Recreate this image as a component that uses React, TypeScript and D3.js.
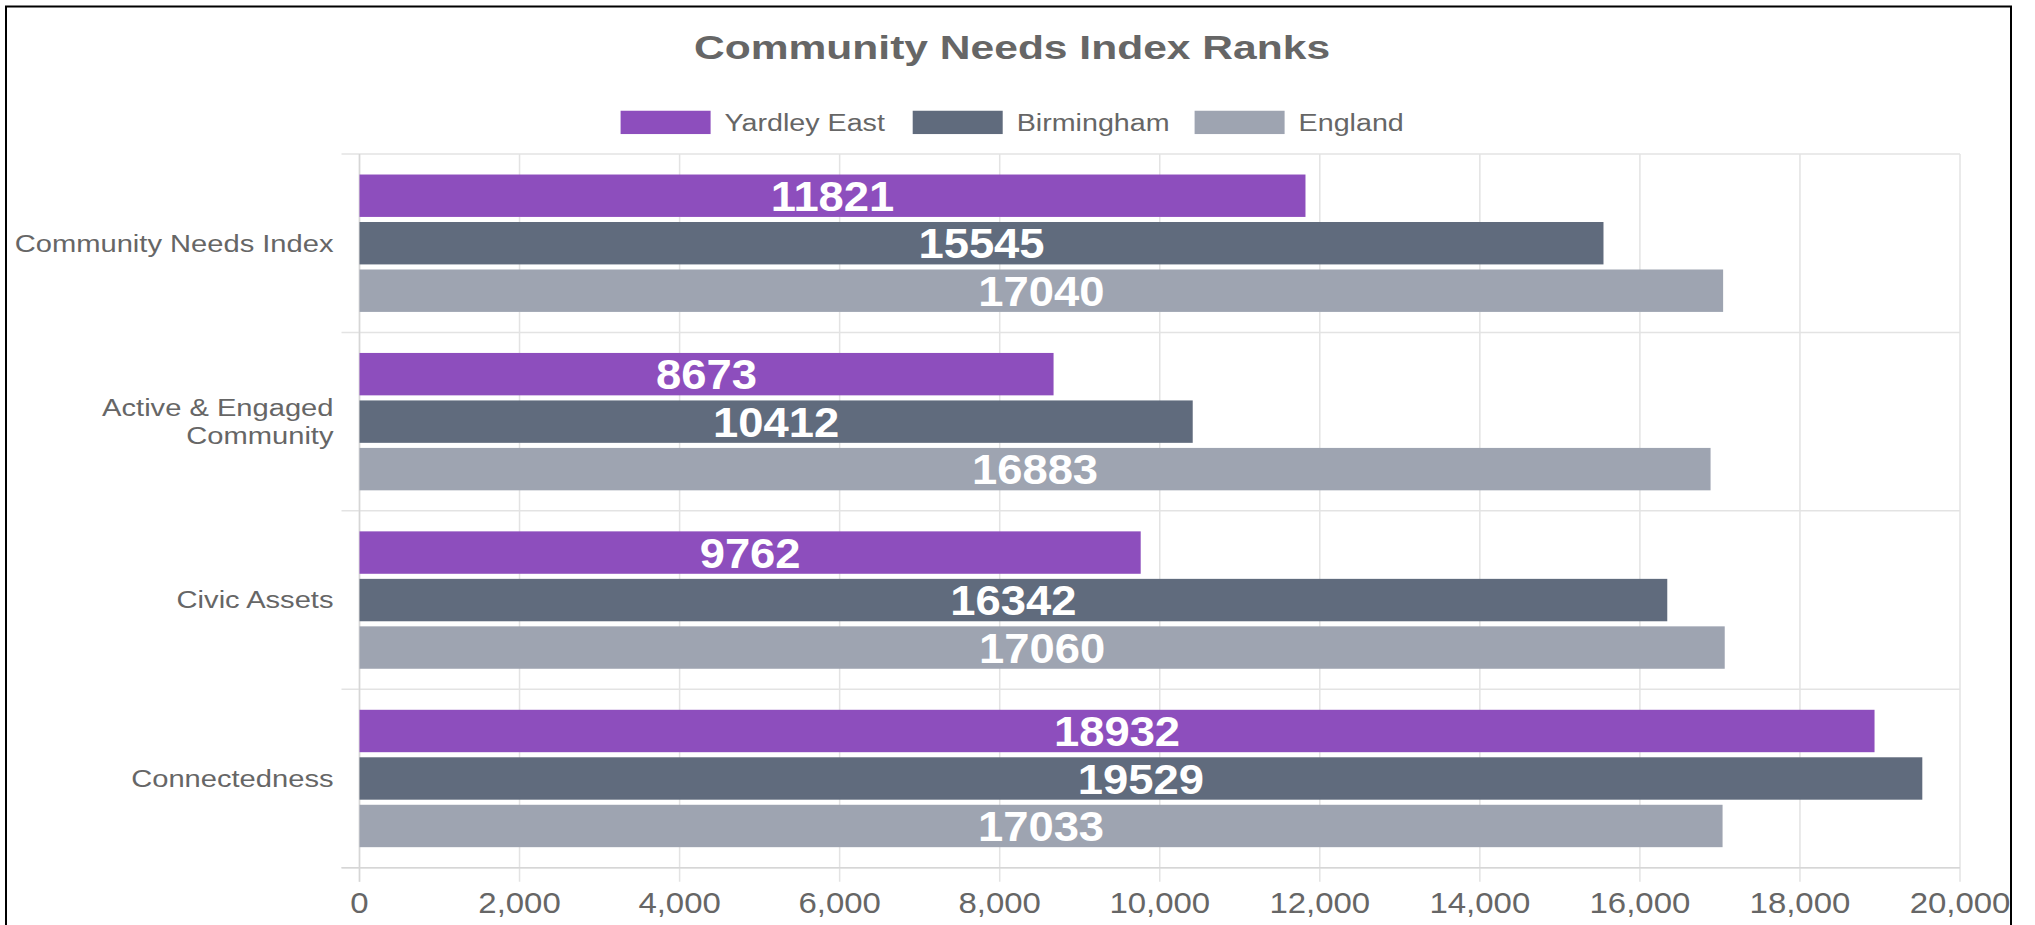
import React from "react";
import * as d3 from "d3";

const categories: string[][] = [
  ["Community Needs Index"],
  ["Active & Engaged", "Community"],
  ["Civic Assets"],
  ["Connectedness"],
];
const seriesNames = ["Yardley East", "Birmingham", "England"];
const seriesColors = ["#8D4EBD", "#606B7D", "#9EA4B1"];
const yardleyEast = [11821, 8673, 9762, 18932];
const birmingham = [15545, 10412, 16342, 19529];
const england = [17040, 16883, 17060, 17033];
const xTicks = [0, 2000, 4000, 6000, 8000, 10000, 12000, 14000, 16000, 18000, 20000];
const title = "Community Needs Index Ranks";

const W = 2035;
const H = 925;
const FONT = "'Liberation Sans', Arial, Helvetica, sans-serif";
const GRAY = "#666666";
const GRID = "#e3e3e3";

function SText({ x, y, sx, children, ...rest }: any) {
  return (
    <g transform={`translate(${x},${y}) scale(${sx},1)`}>
      <text x={0} y={0} {...rest}>
        {children}
      </text>
    </g>
  );
}

export default function App() {
  const left = 359.5;
  const right = 1960;
  const top = 154;
  const bottom = 867.7;
  const series = [yardleyEast, birmingham, england];

  const x = d3.scaleLinear().domain([0, 20000]).range([left, right]);
  const y = d3
    .scaleBand<number>()
    .domain(categories.map((_, i) => i))
    .range([top, bottom])
    .paddingInner(0)
    .paddingOuter(0);
  const groupH = y.bandwidth() * 0.77;
  const sub = d3
    .scaleBand<number>()
    .domain([0, 1, 2])
    .range([0, groupH])
    .paddingInner(0.107)
    .paddingOuter(0);
  const groupOff = (y.bandwidth() - groupH) / 2;
  const fmt = d3.format(",");

  // legend layout
  const boxW = 90;
  const boxH = 23.3;
  const legendFont = 23.3;
  const legendSx = 1.23;
  const textW = seriesNames.map((n) => n.length); // placeholder, positions computed below
  const legendX = [620.6, 912.7, 1194.6];
  const legendY = 122.4;

  const bands = d3.range(categories.length + 1).map((i) =>
    i < categories.length ? (y(i) as number) : bottom
  );

  return (
    <svg
      width={W}
      height={H}
      style={{ position: "absolute", left: 0, top: 0, background: "#fff" }}
      fontFamily={FONT}
    >
      <rect x={0} y={0} width={W} height={H} fill="#fff" />
      {/* outer border */}
      <rect x={6} y={6.5} width={2005} height={1100} fill="none" stroke="#000" strokeWidth={2} />

      {/* title */}
      <SText
        x={1012}
        y={59}
        sx={1.31}
        textAnchor="middle"
        fontSize={32.5}
        fontWeight="bold"
        fill={GRAY}
      >
        {title}
      </SText>

      {/* legend */}
      {seriesNames.map((n, i) => (
        <g key={n}>
          <rect
            x={legendX[i]}
            y={legendY - boxH / 2}
            width={boxW}
            height={boxH}
            fill={seriesColors[i]}
          />
          <SText
            x={legendX[i] + boxW + 14}
            y={legendY + legendFont * 0.36}
            sx={legendSx}
            fontSize={legendFont}
            fill={GRAY}
          >
            {n}
          </SText>
        </g>
      ))}

      {/* vertical grid lines */}
      {xTicks.map((t) => (
        <line
          key={"vg" + t}
          x1={x(t)}
          x2={x(t)}
          y1={top}
          y2={bottom + 14}
          stroke={GRID}
          strokeWidth={1.5}
        />
      ))}
      {/* horizontal grid (category boundaries) */}
      {bands.map((b, i) => (
        <line
          key={"hg" + i}
          x1={left - 18}
          x2={right}
          y1={b}
          y2={b}
          stroke={GRID}
          strokeWidth={1.5}
        />
      ))}
      {/* axes */}
      <line x1={left} x2={left} y1={top} y2={bottom + 14} stroke="#d6d6d6" strokeWidth={1.5} />
      <line x1={left - 18} x2={right} y1={bottom} y2={bottom} stroke="#d6d6d6" strokeWidth={1.5} />

      {/* bars */}
      {categories.map((_, ci) =>
        series.map((s, si) => {
          const by = (y(ci) as number) + groupOff + (sub(si) as number);
          const bh = sub.bandwidth();
          const bx = x(0);
          const bw = x(s[ci]) - x(0);
          return (
            <g key={`b${ci}-${si}`}>
              <rect x={bx} y={by} width={bw} height={bh} fill={seriesColors[si]} />
              <SText
                x={bx + bw / 2}
                y={by + bh / 2 + 42 * 0.36}
                sx={1.08}
                textAnchor="middle"
                fontSize={42}
                fontWeight="bold"
                fill="#ffffff"
              >
                {String(s[ci])}
              </SText>
            </g>
          );
        })
      )}

      {/* y labels */}
      {categories.map((lines, ci) => {
        const cy = (y(ci) as number) + y.bandwidth() / 2;
        const lh = 28.3;
        const startY = cy - ((lines.length - 1) * lh) / 2;
        return lines.map((ln, li) => (
          <SText
            key={`yl${ci}-${li}`}
            x={333.5}
            y={startY + li * lh + 23.3 * 0.36}
            sx={1.25}
            textAnchor="end"
            fontSize={23.3}
            fill={GRAY}
          >
            {ln}
          </SText>
        ));
      })}

      {/* x tick labels */}
      {xTicks.map((t) => (
        <SText
          key={"xl" + t}
          x={x(t)}
          y={913.3}
          sx={1.14}
          textAnchor="middle"
          fontSize={28.9}
          fill={GRAY}
        >
          {fmt(t)}
        </SText>
      ))}
    </svg>
  );
}
